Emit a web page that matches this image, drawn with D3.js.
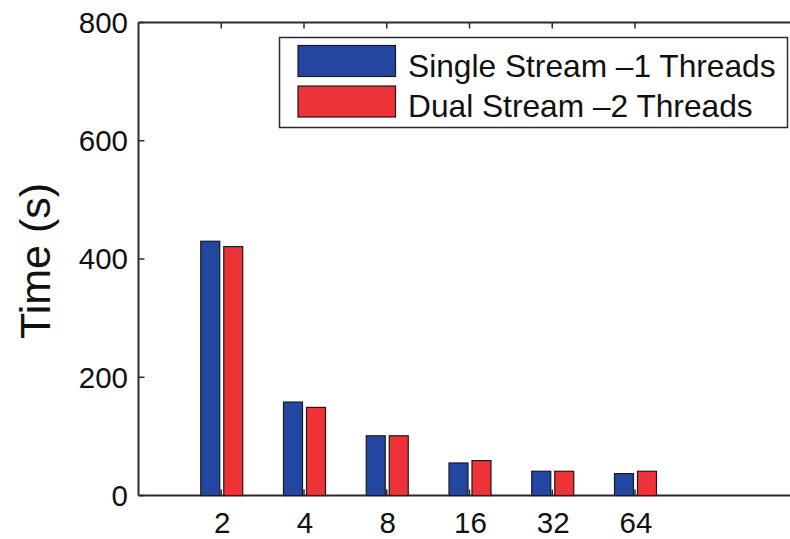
<!DOCTYPE html>
<html>
<head>
<meta charset="utf-8">
<script src="https://cdn.jsdelivr.net/npm/d3@7"></script>
<style>
  html, body { margin: 0; padding: 0; background: #fff; }
  svg { display: block; font-family: "Liberation Sans", Arial, Helvetica, sans-serif; }
</style>
</head>
<body>
<svg id="chart" width="790" height="539"></svg>
<script>
// Thread counts on the x axis
const categories = ["2", "4", "8", "16", "32", "64"];
// Run time in seconds for each configuration
const singleStream = [430, 158, 101, 55, 41, 37];
const dualStream = [421, 149, 101, 59, 41, 41];
const seriesNames = ["Single Stream \u20131 Threads", "Dual Stream \u20132 Threads"];
const yTicks = [0, 200, 400, 600, 800];

const colors = ["#2347a0", "#ee3338"];

const svg = d3.select("#chart");
const W = 790, H = 539;
const plotLeft = 138.5, plotTop = 22.5, plotBottom = 495.5, plotRight = 800.5;

// x: category slot index (1..6) in an 8-slot axis
const x = d3.scaleLinear().domain([0, 8]).range([plotLeft, plotRight]);
const y = d3.scaleLinear().domain([0, 800]).range([plotBottom, plotTop]);

const axisColor = "#2a2a2a";

// Axis lines (left, top, bottom)
svg.append("line").attr("x1", plotLeft).attr("x2", plotLeft).attr("y1", plotTop).attr("y2", plotBottom)
  .attr("stroke", axisColor).attr("stroke-width", 2);
svg.append("line").attr("x1", plotLeft).attr("x2", W + 5).attr("y1", plotTop).attr("y2", plotTop)
  .attr("stroke", axisColor).attr("stroke-width", 2);
svg.append("line").attr("x1", plotLeft).attr("x2", W + 5).attr("y1", plotBottom).attr("y2", plotBottom)
  .attr("stroke", axisColor).attr("stroke-width", 2);

// Y ticks (inward) and labels
svg.append("g").selectAll("line").data(yTicks).join("line")
  .attr("x1", plotLeft).attr("x2", plotLeft + 6)
  .attr("y1", d => y(d)).attr("y2", d => y(d))
  .attr("stroke", axisColor).attr("stroke-width", 1.5);
svg.append("g").selectAll("text").data(yTicks).join("text")
  .attr("x", 128).attr("y", d => y(d))
  .attr("dy", "0.35em")
  .attr("text-anchor", "end")
  .attr("font-size", 29.5)
  .attr("fill", "#111")
  .text(d => d);

// X ticks on top and bottom (inward) and labels
const idx = categories.map((c, i) => i + 1);
svg.append("g").selectAll("line").data(idx).join("line")
  .attr("x1", d => x(d)).attr("x2", d => x(d))
  .attr("y1", plotTop).attr("y2", plotTop + 6)
  .attr("stroke", axisColor).attr("stroke-width", 1.5);
svg.append("g").selectAll("line").data(idx).join("line")
  .attr("x1", d => x(d)).attr("x2", d => x(d))
  .attr("y1", plotBottom).attr("y2", plotBottom - 6)
  .attr("stroke", axisColor).attr("stroke-width", 1.5);
svg.append("g").selectAll("text").data(categories).join("text")
  .attr("x", (d, i) => x(i + 1) + 1)
  .attr("y", 532.5)
  .attr("text-anchor", "middle")
  .attr("font-size", 29.5)
  .attr("fill", "#111")
  .text(d => d);

// Bars
const barW = 19;
const series = [singleStream, dualStream];
const offsets = [-20.5, 2.5];
series.forEach((vals, s) => {
  svg.append("g").selectAll("rect").data(vals).join("rect")
    .attr("x", (d, i) => x(i + 1) + offsets[s])
    .attr("y", d => y(d))
    .attr("width", barW)
    .attr("height", d => y(0) - y(d))
    .attr("fill", colors[s])
    .attr("stroke", "#1a1a1a")
    .attr("stroke-width", 1.2);
});

// Y axis title
svg.append("text")
  .attr("transform", "translate(50,261) rotate(-90)")
  .attr("text-anchor", "middle")
  .attr("font-size", 43)
  .attr("fill", "#111")
  .text("Time (s)");

// Legend
const lg = svg.append("g");
lg.append("rect").attr("x", 279.5).attr("y", 37.5).attr("width", 508).attr("height", 90)
  .attr("fill", "#fff").attr("stroke", axisColor).attr("stroke-width", 1.5);
seriesNames.forEach((name, i) => {
  lg.append("rect").attr("x", 298).attr("y", 45.5 + i * 40.5).attr("width", 97.5).attr("height", 31)
    .attr("fill", colors[i]).attr("stroke", "#1a1a1a").attr("stroke-width", 1.2);
  lg.append("text").attr("x", 408).attr("y", 77 + i * 40)
    .attr("font-size", 31.7).attr("fill", "#111").text(name);
});
</script>
</body>
</html>
